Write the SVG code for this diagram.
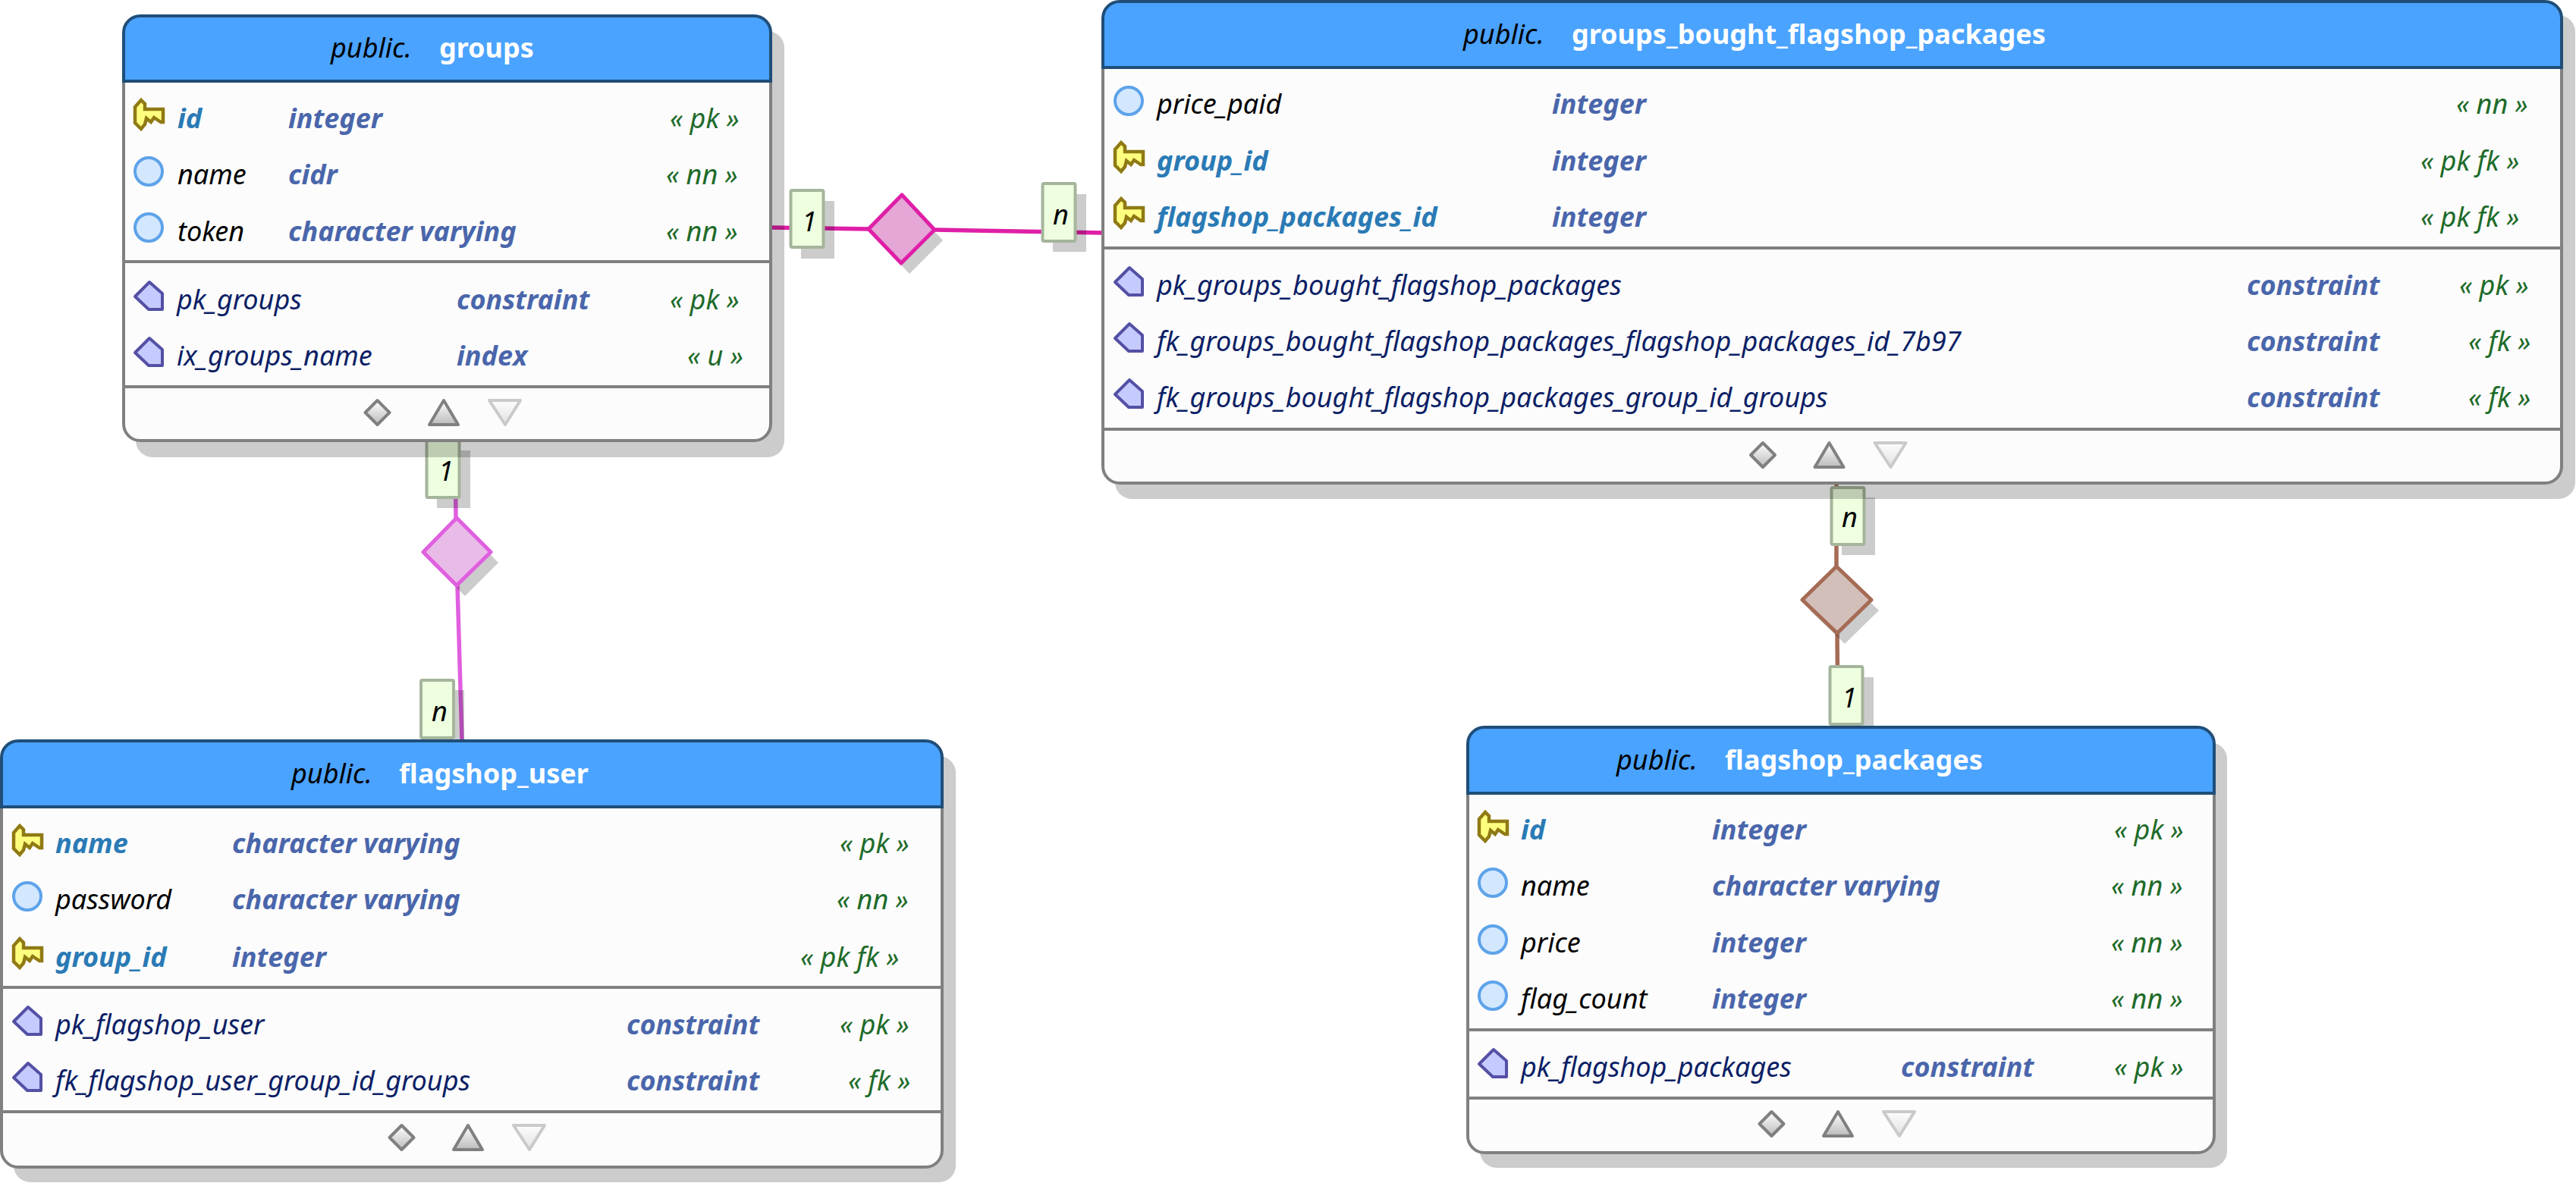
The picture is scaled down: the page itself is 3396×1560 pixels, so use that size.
<svg xmlns="http://www.w3.org/2000/svg" width="3396" height="1560" viewBox="0 0 3396 1560">
<style>
text{font-family:"Noto Sans",sans-serif;font-style:italic;font-size:36px}
.title{font-weight:700;fill:#fff;font-style:normal}
.schema{fill:#000}
.col{fill:#000}
.pk{fill:#2a7ab5;font-weight:700}
.type{fill:#4a66ab;font-weight:700}
.con{fill:#0c1f66}
.st{fill:#1e6b2a}
.card{fill:#000}
.head{fill:#4aa3ff;stroke:#1f4e79;stroke-width:4}
.body{fill:#fcfcfc;stroke:#808080;stroke-width:4}
.sep{stroke:#808080;stroke-width:4;fill:none}
.shadow{fill:#000;fill-opacity:.2}
.lab{fill:#eeffdf;stroke:#a5b59c;stroke-width:4}
.line{fill:none;stroke-width:5.5}
.rel{stroke-width:5;stroke-linejoin:round}
</style>
<defs>
<linearGradient id="grad" x1="0" y1="0" x2="0" y2="1"><stop offset="0" stop-color="#fff"/><stop offset="1" stop-color="#bbb"/></linearGradient>
<polygon id="key" points="10,1 15,6 15,13 39,13 39,30 36,30 27,24 23,30 17,25 15,33 10,39 2,31 2,10" fill="#ffff7f" stroke="#8f7a14" stroke-width="4.5"/>
<circle id="dot" cx="20" cy="20" r="18" fill="#d3e8ff" stroke="#5ea3ea" stroke-width="4"/>
<polygon id="pent" points="21,2 38,17 38,38 20,38 2,21" fill="#c5caff" stroke="#5450a5" stroke-width="4" stroke-linejoin="round"/>
<g id="ctrl" stroke-linejoin="round" stroke-width="4">
<polygon points="-87.5,18 -71.5,34 -87.5,50 -103.5,34" fill="url(#grad)" stroke="#808080"/>
<polygon points="0,18 19,50 -19,50" fill="url(#grad)" stroke="#808080"/>
<polygon points="60,18 101,18 81,50" fill="url(#grad)" stroke="#808080" opacity=".4"/>
</g>
</defs>
<rect width="3396" height="1560" fill="#fff"/>
<g id="connectors">
<g id="rel-groups-bought">
<polyline class="line" stroke="#df1fa7" points="1017,300 1145,302"/>
<polyline class="line" stroke="#df1fa7" points="1232,303 1453,307"/>
<polygon class="shadow" points="1156,316 1200,271 1243,317 1199,361"/>
<polygon class="rel" fill="#e5a7d6" stroke="#df1fa7" points="1145,302 1189,257 1232,303 1188,347"/>
<rect class="shadow" x="1056" y="265" width="44" height="76"/>
<rect class="lab" x="1042.5" y="251" width="43" height="75" rx="2"/>
<text class="card" x="1057" y="305">1</text>
<rect class="shadow" x="1388" y="256" width="44" height="76"/>
<rect class="lab" x="1374.5" y="242" width="43" height="76" rx="2"/>
<text class="card" x="1388" y="296">n</text>
</g>
<g id="rel-groups-user">
<polyline class="line" stroke="#e05fe0" points="600,581 601,683"/>
<polyline class="line" stroke="#e05fe0" points="603,772 609,976"/>
<polygon class="shadow" points="568,742 613,697 657,742 613,786"/>
<polygon class="rel" fill="#e9bbe9" stroke="#e05fe0" points="558,728 602,683 647,728 602,772"/>
<rect class="shadow" x="576" y="594" width="44" height="76"/>
<rect class="lab" x="562.5" y="581" width="43" height="75" rx="2"/>
<text class="card" x="578" y="634">1</text>
<rect class="shadow" x="568" y="910" width="44" height="76"/>
<rect class="lab" x="555" y="897" width="43" height="76" rx="2"/>
<text class="card" x="569" y="951">n</text>
</g>
<g id="rel-bought-packages">
<polyline class="line" stroke="#a56b55" points="2421,638 2421,747"/>
<polyline class="line" stroke="#a56b55" points="2422,835 2423,958"/>
<polygon class="shadow" points="2386,805 2431,761 2477,805 2432,849"/>
<polygon class="rel" fill="#d3bfb9" stroke="#a56b55" points="2376,791 2421,747 2467,791 2422,835"/>
<rect class="shadow" x="2428" y="656" width="44" height="76"/>
<rect class="lab" x="2414.5" y="643" width="43" height="75" rx="2"/>
<text class="card" x="2428" y="695">n</text>
<rect class="shadow" x="2426" y="893" width="44" height="76"/>
<rect class="lab" x="2412.5" y="879" width="43" height="76" rx="2"/>
<text class="card" x="2428" y="933">1</text>
</g>
</g>

<g id="groups">
<rect class="shadow" x="179" y="41" width="855" height="562" rx="22"/>
<path class="body" d="M163,107V559a22,22 0 0 0 22,22H994a22,22 0 0 0 22,-22V107Z"/>
<path class="head" d="M163,107V43a22,22 0 0 1 22,-22H994a22,22 0 0 1 22,22V107Z"/>
<line class="sep" x1="163" x2="1016" y1="345" y2="345"/>
<line class="sep" x1="163" x2="1016" y1="510" y2="510"/>
<text class="schema" x="436" y="76">public.</text><text class="title" x="579" y="76">groups</text>
<use href="#key" x="176" y="131"/><text class="pk" x="234" y="169">id</text><text class="type" x="380" y="169">integer</text><text class="st" x="883" y="169">« pk »</text>
<use href="#dot" x="176" y="206"/><text class="col" x="234" y="243">name</text><text class="type" x="380" y="243">cidr</text><text class="st" x="878" y="243">« nn »</text>
<use href="#dot" x="176" y="280"/><text class="col" x="234" y="318">token</text><text class="type" x="380" y="318">character varying</text><text class="st" x="878" y="318">« nn »</text>
<use href="#pent" x="176" y="370"/><text class="con" x="233" y="408">pk_groups</text><text class="type" x="602" y="408">constraint</text><text class="st" x="883" y="408">« pk »</text>
<use href="#pent" x="176" y="444"/><text class="con" x="233" y="482">ix_groups_name</text><text class="type" x="602" y="482">index</text><text class="st" x="906" y="482">« u »</text>
<use href="#ctrl" transform="translate(585,510)"/>
</g>

<g id="groups_bought_flagshop_packages">
<rect class="shadow" x="1470" y="20" width="1925" height="638" rx="22"/>
<path class="body" d="M1454,89V615a22,22 0 0 0 22,22H3355a22,22 0 0 0 22,-22V89Z"/>
<path class="head" d="M1454,89V24a22,22 0 0 1 22,-22H3355a22,22 0 0 1 22,22V89Z"/>
<line class="sep" x1="1454" x2="3377" y1="327" y2="327"/>
<line class="sep" x1="1454" x2="3377" y1="566" y2="566"/>
<text class="schema" x="1929" y="58">public.</text><text class="title" x="2072" y="58">groups_bought_flagshop_packages</text>
<use href="#dot" x="1468" y="113"/><text class="col" x="1525" y="150">price_paid</text><text class="type" x="2046" y="150">integer</text><text class="st" x="3238" y="150">« nn »</text>
<use href="#key" x="1468" y="187"/><text class="pk" x="1525" y="225">group_id</text><text class="type" x="2046" y="225">integer</text><text class="st" x="3191" y="225">« pk fk »</text>
<use href="#key" x="1468" y="261"/><text class="pk" x="1525" y="299">flagshop_packages_id</text><text class="type" x="2046" y="299">integer</text><text class="st" x="3191" y="299">« pk fk »</text>
<use href="#pent" x="1468" y="351"/><text class="con" x="1525" y="389">pk_groups_bought_flagshop_packages</text><text class="type" x="2962" y="389">constraint</text><text class="st" x="3242" y="389">« pk »</text>
<use href="#pent" x="1468" y="425"/><text class="con" x="1525" y="463">fk_groups_bought_flagshop_packages_flagshop_packages_id_7b97</text><text class="type" x="2962" y="463">constraint</text><text class="st" x="3254" y="463">« fk »</text>
<use href="#pent" x="1468" y="499"/><text class="con" x="1525" y="537">fk_groups_bought_flagshop_packages_group_id_groups</text><text class="type" x="2962" y="537">constraint</text><text class="st" x="3254" y="537">« fk »</text>
<use href="#ctrl" transform="translate(2411.5,566)"/>
</g>

<g id="flagshop_user">
<rect class="shadow" x="18" y="997" width="1242" height="562" rx="22"/>
<path class="body" d="M2,1064V1517a22,22 0 0 0 22,22H1220a22,22 0 0 0 22,-22V1064Z"/>
<path class="head" d="M2,1064V999a22,22 0 0 1 22,-22H1220a22,22 0 0 1 22,22V1064Z"/>
<line class="sep" x1="2" x2="1242" y1="1302" y2="1302"/>
<line class="sep" x1="2" x2="1242" y1="1466" y2="1466"/>
<text class="schema" x="384" y="1033">public.</text><text class="title" x="526" y="1033">flagshop_user</text>
<use href="#key" x="16" y="1088"/><text class="pk" x="73" y="1125">name</text><text class="type" x="306" y="1125">character varying</text><text class="st" x="1107" y="1125">« pk »</text>
<use href="#dot" x="16" y="1162"/><text class="col" x="73" y="1199">password</text><text class="type" x="306" y="1199">character varying</text><text class="st" x="1103" y="1199">« nn »</text>
<use href="#key" x="16" y="1237"/><text class="pk" x="73" y="1275">group_id</text><text class="type" x="306" y="1275">integer</text><text class="st" x="1055" y="1275">« pk fk »</text>
<use href="#pent" x="16" y="1326"/><text class="con" x="73" y="1364">pk_flagshop_user</text><text class="type" x="826" y="1364">constraint</text><text class="st" x="1107" y="1364">« pk »</text>
<use href="#pent" x="16" y="1400"/><text class="con" x="73" y="1438">fk_flagshop_user_group_id_groups</text><text class="type" x="826" y="1438">constraint</text><text class="st" x="1118" y="1438">« fk »</text>
<use href="#ctrl" transform="translate(617,1466)"/>
</g>

<g id="flagshop_packages">
<rect class="shadow" x="1951" y="979" width="985" height="561" rx="22"/>
<path class="body" d="M1935,1046V1498a22,22 0 0 0 22,22H2897a22,22 0 0 0 22,-22V1046Z"/>
<path class="head" d="M1935,1046V981a22,22 0 0 1 22,-22H2897a22,22 0 0 1 22,22V1046Z"/>
<line class="sep" x1="1935" x2="2919" y1="1358" y2="1358"/>
<line class="sep" x1="1935" x2="2919" y1="1448" y2="1448"/>
<text class="schema" x="2131" y="1015">public.</text><text class="title" x="2274" y="1015">flagshop_packages</text>
<use href="#key" x="1948" y="1070"/><text class="pk" x="2005" y="1107">id</text><text class="type" x="2257" y="1107">integer</text><text class="st" x="2787" y="1107">« pk »</text>
<use href="#dot" x="1948" y="1144"/><text class="col" x="2005" y="1181">name</text><text class="type" x="2257" y="1181">character varying</text><text class="st" x="2783" y="1181">« nn »</text>
<use href="#dot" x="1948" y="1219"/><text class="col" x="2005" y="1256">price</text><text class="type" x="2257" y="1256">integer</text><text class="st" x="2783" y="1256">« nn »</text>
<use href="#dot" x="1948" y="1293"/><text class="col" x="2005" y="1330">flag_count</text><text class="type" x="2257" y="1330">integer</text><text class="st" x="2783" y="1330">« nn »</text>
<use href="#pent" x="1948" y="1382"/><text class="con" x="2005" y="1420">pk_flagshop_packages</text><text class="type" x="2506" y="1420">constraint</text><text class="st" x="2787" y="1420">« pk »</text>
<use href="#ctrl" transform="translate(2423,1448)"/>
</g>
</svg>
